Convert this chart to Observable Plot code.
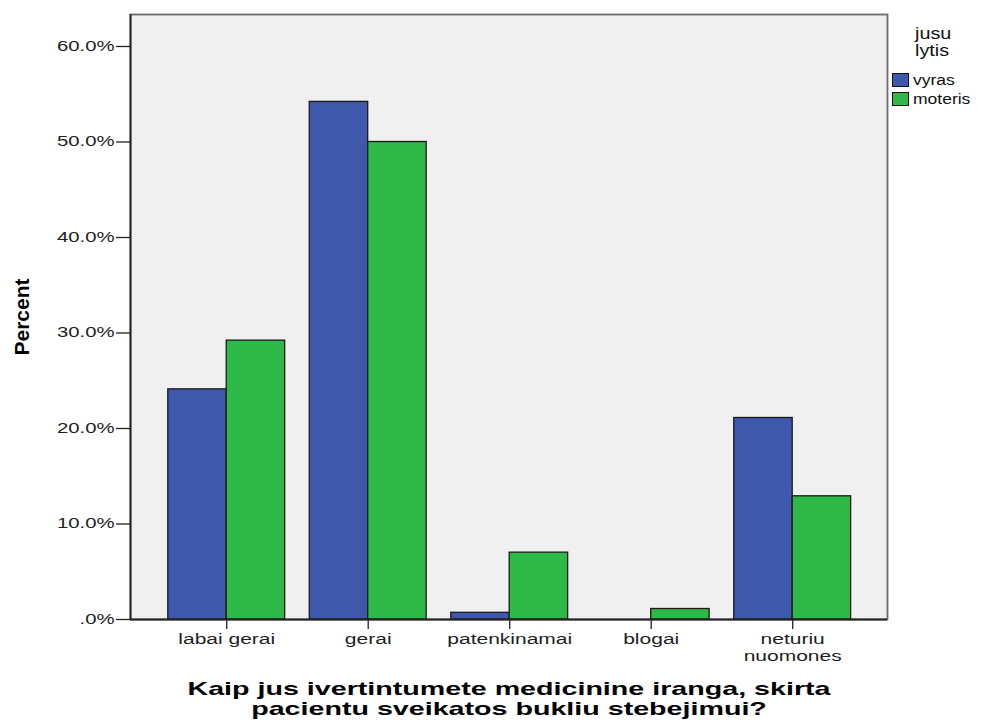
<!DOCTYPE html>
<html><head><meta charset="utf-8">
<script src="https://cdn.jsdelivr.net/npm/d3@7"></script>
<script src="https://cdn.jsdelivr.net/npm/@observablehq/plot@0.6"></script>
<style>
body{margin:0;background:#fff;}
#wrap{position:relative;width:986px;height:722px;overflow:hidden;}
#legend{position:absolute;left:892px;top:25px;font-family:"Liberation Sans",Arial,sans-serif;color:#111;}
#legend .lt{margin-left:23px;font-size:16.5px;line-height:17px;margin-bottom:11px;}
#legend .lt span{display:inline-block;transform:scaleX(1.2);transform-origin:left center;}
#legend .row{display:flex;align-items:center;height:19px;font-size:14px;}
#legend .row span{display:inline-block;transform:scaleX(1.25);transform-origin:left center;}
#legend .sw{width:15px;height:12px;border:1px solid #111;margin-right:4px;}
</style></head><body><div id="wrap"></div>
<script>
const categories = ["labai gerai","gerai","patenkinamai","blogai","neturiu nuomones"];
const categoryLabels = ["labai gerai","gerai","patenkinamai","blogai","neturiu\nnuomones"];
const groups = ["vyras","moteris"];
const vyras = [24.1, 54.2, 0.7, 0.0, 21.1];
const moteris = [29.2, 50.0, 7.0, 1.1, 12.9];
const yTicks = [0, 10, 20, 30, 40, 50, 60];
const yTickLabels = [".0%", "10.0%", "20.0%", "30.0%", "40.0%", "50.0%", "60.0%"];
const colors = ["#3e58ac", "#2eb848"];
const legendTitle = ["jusu", "lytis"];
const yLabel = "Percent";
const xTitle = "Kaip jus ivertintumete medicinine iranga, skirta\npacientu sveikatos bukliu stebejimui?";

const data = categories.flatMap((c, i) => [
  {cat: i, group: groups[0], value: vyras[i]},
  {cat: i, group: groups[1], value: moteris[i]}
]);
const xDomain = [-0.68, 4.67];
const half = 0.413;

const chart = Plot.plot({
  width: 986, height: 722,
  marginLeft: 130, marginRight: 99, marginTop: 14, marginBottom: 103,
  style: {fontFamily: "'Liberation Sans', Arial, sans-serif", fontSize: "14px", color: "#1e1e1e", background: "#fff"},
  x: {domain: xDomain},
  y: {domain: [0, 63.35]},
  color: {domain: groups, range: colors},
  marks: [
    Plot.frame({fill: "#f0f0f0", stroke: "#6a6a6a", strokeWidth: 1.8}),
    Plot.rectY(data, {
      x1: d => d.cat + (d.group === groups[0] ? -half : 0),
      x2: d => d.cat + (d.group === groups[0] ? 0 : half),
      y1: 0, y2: "value", fill: "group", stroke: "#1a1a1a", strokeWidth: 1.3
    }),
    Plot.ruleY([0], {stroke: "#222", strokeWidth: 1.8}),
    Plot.ruleX([xDomain[0]], {stroke: "#222", strokeWidth: 1.8}),
    Plot.axisY({ticks: yTicks, tickFormat: d => yTickLabels[yTicks.indexOf(d)], tickSize: 14, tickPadding: 2, fontSize: 14, label: null, stroke: "#222", strokeWidth: 1.3}),
    Plot.axisX({ticks: [0, 1, 2, 3, 4], tickFormat: i => categoryLabels[i], tickSize: 10, tickPadding: 2, fontSize: 14, label: null, lineHeight: 1.25, stroke: "#222", strokeWidth: 1.3}),
    Plot.text([yLabel], {frameAnchor: "left", textAnchor: "middle", rotate: -90, dx: -108, text: d => d, fontWeight: "bold", fontSize: 21, fontFamily: "'Liberation Sans Narrow', 'Arial Narrow', sans-serif", fill: "#000"}),
    Plot.text([xTitle], {frameAnchor: "bottom", dy: 61, lineAnchor: "top", text: d => d, fontWeight: "bold", fontSize: 19, lineHeight: 1.05, fontFamily: "'Liberation Sans', Arial, sans-serif", fill: "#000"})
  ]
});
const wrap = document.getElementById("wrap");
wrap.appendChild(chart);

function stretchEl(t, factor) {
  const parts = t.querySelectorAll("tspan");
  const els = parts.length ? Array.from(parts) : [t];
  els.forEach(e => {
    const w = e.getComputedTextLength();
    e.setAttribute("textLength", (w * factor).toFixed(1));
    e.setAttribute("lengthAdjust", "spacingAndGlyphs");
  });
}
chart.querySelectorAll('g[aria-label="x-axis tick label"] text').forEach(t => stretchEl(t, 1.5));
chart.querySelectorAll('g[aria-label="y-axis tick label"] text').forEach(t => stretchEl(t, 1.45));
chart.querySelectorAll("text").forEach(t => {
  if (t.textContent.startsWith("Kaip")) {
    const first = t.querySelector("tspan") || t;
    const factor = 643 / first.getComputedTextLength();
    stretchEl(t, factor);
  }
});

const lg = document.createElement("div");
lg.id = "legend";
lg.innerHTML = `<div class="lt">${legendTitle.map(s => `<span>${s}</span>`).join("<br>")}</div>` +
  groups.map((g, i) => `<div class="row"><div class="sw" style="background:${colors[i]}"></div><span>${g}</span></div>`).join("");
wrap.appendChild(lg);
</script>
</body></html>
